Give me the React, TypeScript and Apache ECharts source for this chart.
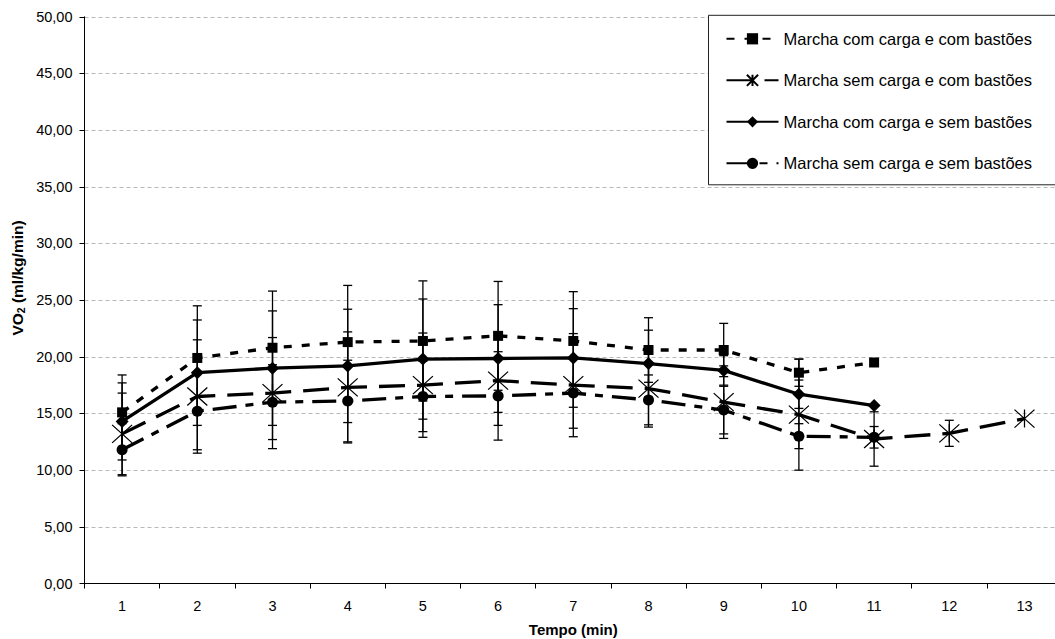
import React, { useEffect, useRef } from "react";
import * as echarts from "echarts";

const categories = ["1", "2", "3", "4", "5", "6", "7", "8", "9", "10", "11", "12", "13"];

const seriesNames = [
  "Marcha com carga e com bastões",
  "Marcha sem carga e com bastões",
  "Marcha com carga e sem bastões",
  "Marcha sem carga e sem bastões",
];

const comCargaComBastoes = [15.1, 19.9, 20.8, 21.3, 21.4, 21.85, 21.4, 20.6, 20.6, 18.6, 19.5];
const semCargaComBastoes = [13.2, 16.5, 16.8, 17.3, 17.5, 17.9, 17.5, 17.2, 16.0, 14.9, 12.75, 13.25, 14.55];
const comCargaSemBastoes = [14.3, 18.6, 19.0, 19.2, 19.8, 19.85, 19.9, 19.4, 18.8, 16.7, 15.7];
const semCargaSemBastoes = [11.8, 15.2, 16.0, 16.1, 16.5, 16.55, 16.8, 16.2, 15.3, 13.0, 12.9];

const dpComCargaComBastoes = [3.3, 4.6, 5.0, 5.0, 5.3, 4.8, 4.35, 2.85, 2.35, 1.2, 0];
const dpSemCargaComBastoes = [3.6, 5.0, 4.9, 4.9, 4.6, 3.95, 4.55, 3.4, 3.2, 4.9, 2.4, 1.15, 0];
const dpComCargaSemBastoes = [3.4, 4.65, 5.05, 5.0, 5.3, 4.75, 4.35, 2.95, 1.3, 1.25, 0];
const dpSemCargaSemBastoes = [2.3, 3.4, 3.3, 3.6, 3.1, 3.9, 3.1, 2.2, 2.1, 1.1, 0.95];

const yTicks = { min: 0, max: 50, interval: 5 };

const FONT = "'Liberation Sans', Arial, sans-serif";
const STAR = "path://M0,0L20,18M20,0L0,18M10,0L10,18";

function errorData(vals: number[], sds: number[]) {
  return vals
    .map((v, i) => [i, v - sds[i], v + sds[i], sds[i]])
    .filter((d) => d[3] > 0);
}

function errorSeries(name: string, vals: number[], sds: number[]) {
  return {
    type: "custom",
    name,
    data: errorData(vals, sds),
    z: 1,
    renderItem: (params: any, api: any) => {
      const x = api.value(0);
      const lo = api.coord([x, api.value(1)]);
      const hi = api.coord([x, api.value(2)]);
      const h = 4.5;
      const st = { stroke: "#000", lineWidth: 1.3 };
      return {
        type: "group",
        children: [
          { type: "line", shape: { x1: hi[0], y1: hi[1], x2: lo[0], y2: lo[1] }, style: st },
          { type: "line", shape: { x1: hi[0] - h, y1: hi[1], x2: hi[0] + h, y2: hi[1] }, style: st },
          { type: "line", shape: { x1: lo[0] - h, y1: lo[1], x2: lo[0] + h, y2: lo[1] }, style: st },
        ],
      };
    },
  };
}

export default function App() {
  const ref = useRef<HTMLDivElement>(null);
  useEffect(() => {
    if (!ref.current) return;
    const chart = echarts.init(ref.current, undefined, { renderer: "svg" });
    const lineBase = (name: string, data: number[], dash: any, symbol: string, size: any, extraItem: any = {}) => ({
      type: "line",
      name,
      data,
      symbol,
      symbolSize: size,
      z: 3,
      lineStyle: { color: "#000", width: 3.3, type: dash },
      itemStyle: { color: "#000", ...extraItem },
    });
    chart.setOption({
      animation: false,
      backgroundColor: "#fff",
      textStyle: { fontFamily: FONT },
      grid: {
        left: 84.5,
        top: 16.8,
        width: 977.6,
        height: 566.7,
        containLabel: false,
        outerBoundsMode: "none",
      },
      xAxis: {
        type: "category",
        data: categories,
        boundaryGap: true,
        name: "Tempo (min)",
        nameLocation: "middle",
        nameGap: 38,
        nameTextStyle: { fontSize: 15, fontWeight: "bold", color: "#000", fontFamily: FONT },
        axisLine: { show: true, lineStyle: { color: "#000", width: 1 } },
        axisTick: { show: true, length: 5, alignWithLabel: false, lineStyle: { color: "#000" } },
        axisLabel: { fontSize: 14.5, color: "#000", margin: 15, fontFamily: FONT },
        splitLine: { show: false },
      },
      yAxis: {
        type: "value",
        min: yTicks.min,
        max: yTicks.max,
        interval: yTicks.interval,
        axisLine: { show: true, lineStyle: { color: "#000", width: 1 } },
        axisTick: { show: true, length: 5, lineStyle: { color: "#000" } },
        axisLabel: {
          fontSize: 14.5,
          color: "#000",
          margin: 12,
          fontFamily: FONT,
          formatter: (v: number) => v.toFixed(2).replace(".", ","),
        },
        splitLine: { show: true, lineStyle: { color: "#b8b8b8", type: [4, 3], width: 1 } },
      },
      legend: {
        data: seriesNames,
        orient: "vertical",
        left: 708.5,
        top: 15.3,
        padding: [15, 40, 13, 17],
        itemGap: 24.5,
        itemWidth: 52,
        itemHeight: 14,
        backgroundColor: "#fff",
        borderColor: "#222",
        borderWidth: 1,
        borderRadius: 0,
        textStyle: { fontSize: 16.5, color: "#000", fontFamily: FONT },
        z: 10,
      },
      graphic: [
        {
          type: "text",
          x: 17,
          y: 278,
          rotation: Math.PI / 2,
          style: {
            text: "{a|VO}{s|2}{a| (ml/kg/min)}",
            align: "center",
            verticalAlign: "middle",
            rich: {
              a: { fontSize: 15.5, fontWeight: "bold", fontFamily: FONT, fill: "#000" },
              s: { fontSize: 10.5, fontWeight: "bold", fontFamily: FONT, fill: "#000", padding: [7, 0, 0, 0] },
            },
          },
        },
      ],
      series: [
        lineBase(seriesNames[0], comCargaComBastoes, [8, 10], "rect", 10),
        lineBase(seriesNames[1], semCargaComBastoes, [26, 12], STAR, [20, 18], {
          color: "none",
          borderColor: "#000",
          borderWidth: 1.2,
        }),
        lineBase(seriesNames[2], comCargaSemBastoes, "solid", "diamond", 13),
        lineBase(seriesNames[3], semCargaSemBastoes, [24, 9, 8, 9], "circle", 11),
        errorSeries("dp1", comCargaComBastoes, dpComCargaComBastoes),
        errorSeries("dp2", semCargaComBastoes, dpSemCargaComBastoes),
        errorSeries("dp3", comCargaSemBastoes, dpComCargaSemBastoes),
        errorSeries("dp4", semCargaSemBastoes, dpSemCargaSemBastoes),
      ],
    });
    return () => chart.dispose();
  }, []);
  return <div ref={ref} style={{ position: "fixed", left: 0, top: 0, width: 1055, height: 639 }} />;
}
